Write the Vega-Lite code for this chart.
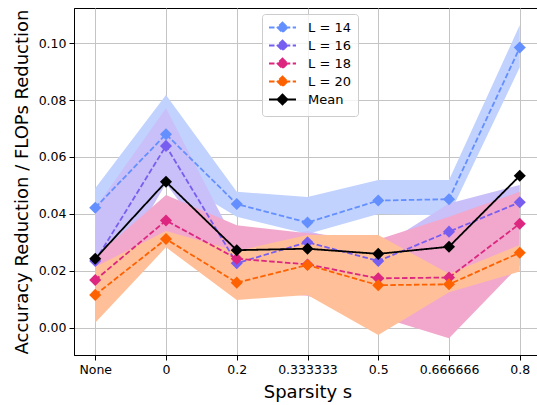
{
  "$schema": "https://vega.github.io/schema/vega-lite/v6.json",
  "autosize": "none",
  "padding": {"left": 74, "top": 8, "right": 0, "bottom": 50},
  "width": 467,
  "height": 347,
  "config": {
    "font": "DejaVu Sans",
    "view": {"stroke": "black", "strokeWidth": 1},
    "axis": {
      "domainColor": "black", "tickColor": "black", "labelColor": "black",
      "titleColor": "black", "gridColor": "#c4c4c4", "gridWidth": 1,
      "labelFont": "DejaVu Sans", "titleFont": "DejaVu Sans",
      "labelFontSize": 12.5, "titleFontSize": 18, "titleFontWeight": "normal",
      "tickSize": 5, "labelPadding": 3
    }
  },
  "data": {
    "values": [
      {"s": "None", "series": "L = 14", "value": 0.0422, "lo": 0.035, "hi": 0.049},
      {"s": "0", "series": "L = 14", "value": 0.068, "lo": 0.054, "hi": 0.0818},
      {"s": "0.2", "series": "L = 14", "value": 0.0435, "lo": 0.039, "hi": 0.0478},
      {"s": "0.333333", "series": "L = 14", "value": 0.037, "lo": 0.033, "hi": 0.046},
      {"s": "0.5", "series": "L = 14", "value": 0.0447, "lo": 0.040, "hi": 0.0519},
      {"s": "0.666666", "series": "L = 14", "value": 0.0452, "lo": 0.0395, "hi": 0.0519},
      {"s": "0.8", "series": "L = 14", "value": 0.0984, "lo": 0.0915, "hi": 0.1063},
      {"s": "None", "series": "L = 16", "value": 0.0235, "lo": 0.008, "hi": 0.042},
      {"s": "0", "series": "L = 16", "value": 0.0639, "lo": 0.0507, "hi": 0.0771},
      {"s": "0.2", "series": "L = 16", "value": 0.0227, "lo": 0.017, "hi": 0.029},
      {"s": "0.333333", "series": "L = 16", "value": 0.0301, "lo": 0.026, "hi": 0.034},
      {"s": "0.5", "series": "L = 16", "value": 0.0235, "lo": 0.019, "hi": 0.028},
      {"s": "0.666666", "series": "L = 16", "value": 0.0338, "lo": 0.024, "hi": 0.0437},
      {"s": "0.8", "series": "L = 16", "value": 0.0441, "lo": 0.038, "hi": 0.0502},
      {"s": "None", "series": "L = 18", "value": 0.0168, "lo": 0.0088, "hi": 0.025},
      {"s": "0", "series": "L = 18", "value": 0.0377, "lo": 0.0287, "hi": 0.0467},
      {"s": "0.2", "series": "L = 18", "value": 0.0243, "lo": 0.013, "hi": 0.036},
      {"s": "0.333333", "series": "L = 18", "value": 0.0223, "lo": 0.0113, "hi": 0.0332},
      {"s": "0.5", "series": "L = 18", "value": 0.0174, "lo": 0.004, "hi": 0.031},
      {"s": "0.666666", "series": "L = 18", "value": 0.0177, "lo": -0.0036, "hi": 0.039},
      {"s": "0.8", "series": "L = 18", "value": 0.0366, "lo": 0.022, "hi": 0.0478},
      {"s": "None", "series": "L = 20", "value": 0.0116, "lo": 0.0018, "hi": 0.0214},
      {"s": "0", "series": "L = 20", "value": 0.0312, "lo": 0.0283, "hi": 0.034},
      {"s": "0.2", "series": "L = 20", "value": 0.0159, "lo": 0.0098, "hi": 0.027},
      {"s": "0.333333", "series": "L = 20", "value": 0.0221, "lo": 0.0116, "hi": 0.0326},
      {"s": "0.5", "series": "L = 20", "value": 0.015, "lo": -0.0025, "hi": 0.0326},
      {"s": "0.666666", "series": "L = 20", "value": 0.0153, "lo": 0.0125, "hi": 0.019},
      {"s": "0.8", "series": "L = 20", "value": 0.0264, "lo": 0.0198, "hi": 0.0291},
      {"s": "None", "series": "Mean", "value": 0.0243},
      {"s": "0", "series": "Mean", "value": 0.0513},
      {"s": "0.2", "series": "Mean", "value": 0.0273},
      {"s": "0.333333", "series": "Mean", "value": 0.0278},
      {"s": "0.5", "series": "Mean", "value": 0.026},
      {"s": "0.666666", "series": "Mean", "value": 0.0285},
      {"s": "0.8", "series": "Mean", "value": 0.0534}
    ]
  },
  "encoding": {
    "x": {
      "field": "s", "type": "nominal",
      "sort": ["None", "0", "0.2", "0.333333", "0.5", "0.666666", "0.8"],
      "scale": {"type": "point", "padding": 0.3},
      "axis": {"title": "Sparsity s", "labelAngle": 0, "grid": true, "titlePadding": 8}
    }
  },
  "layer": [
    {
      "transform": [{"filter": "datum.series === 'L = 14'"}],
      "mark": {"type": "area", "color": "#C1D2FF", "opacity": 1},
      "encoding": {"y": {"field": "lo", "type": "quantitative"}, "y2": {"field": "hi"}}
    },
    {
      "transform": [{"filter": "datum.series === 'L = 16'"}],
      "mark": {"type": "area", "color": "#C9BFF9", "opacity": 1},
      "encoding": {"y": {"field": "lo", "type": "quantitative"}, "y2": {"field": "hi"}}
    },
    {
      "transform": [{"filter": "datum.series === 'L = 18'"}],
      "mark": {"type": "area", "color": "#F1A8CC", "opacity": 1},
      "encoding": {"y": {"field": "lo", "type": "quantitative"}, "y2": {"field": "hi"}}
    },
    {
      "transform": [{"filter": "datum.series === 'L = 20'"}],
      "mark": {"type": "area", "color": "#FFC099", "opacity": 1},
      "encoding": {"y": {"field": "lo", "type": "quantitative"}, "y2": {"field": "hi"}}
    },
    {
      "mark": {"type": "line", "strokeWidth": 1.8},
      "encoding": {
        "y": {"field": "value", "type": "quantitative",
          "scale": {"domain": [-0.0095, 0.1123], "nice": false, "zero": false},
          "axis": {"title": "Accuracy Reduction / FLOPs Reduction", "values": [0, 0.02, 0.04, 0.06, 0.08, 0.1], "format": ".2f", "grid": true, "titlePadding": 7}},
        "color": {"field": "series", "type": "nominal",
          "scale": {"domain": ["L = 14", "L = 16", "L = 18", "L = 20", "Mean"], "range": ["#648FFF", "#785EF0", "#DC267F", "#FE6100", "#000000"]},
          "legend": {"orient": "none", "legendX": 188, "legendY": 6, "title": null,
            "symbolType": "M-2.7,0L2.7,0M0,-1L1,0L0,1L-1,0Z", "symbolSize": 100,
            "symbolOffset": 7, "labelOffset": 19,
            "symbolStrokeWidth": 1.8, "labelFontSize": 13, "labelFont": "DejaVu Sans",
            "rowPadding": -1, "padding": 7, "strokeColor": "#cccccc", "fillColor": "rgba(255,255,255,0.8)",
            "cornerRadius": 3, "labelColor": "black"}},
        "strokeDash": {"field": "series", "type": "nominal",
          "scale": {"domain": ["L = 14", "L = 16", "L = 18", "L = 20", "Mean"], "range": [[5.5, 2.4], [5.5, 2.4], [5.5, 2.4], [5.5, 2.4], [1, 0]]},
          "legend": {"orient": "none", "legendX": 188, "legendY": 6, "title": null,
            "symbolType": "M-2.7,0L2.7,0M0,-1L1,0L0,1L-1,0Z", "symbolSize": 100,
            "symbolOffset": 7, "labelOffset": 19, "rowPadding": -1}}
      }
    },
    {
      "mark": {"type": "point", "shape": "diamond", "filled": true, "size": 145, "opacity": 1},
      "encoding": {
        "y": {"field": "value", "type": "quantitative"},
        "color": {"field": "series", "type": "nominal"}
      }
    }
  ]
}
